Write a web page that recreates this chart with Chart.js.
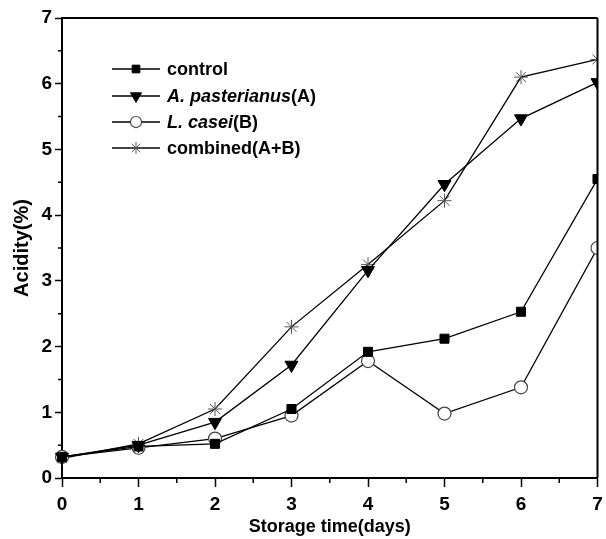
<!DOCTYPE html>
<html>
<head>
<meta charset="utf-8">
<script src="https://cdn.jsdelivr.net/npm/chart.js@4"></script>
<style>
  html, body { margin: 0; padding: 0; background: #fff; }
  #wrap { width: 606px; height: 539px; }
</style>
</head>
<body>
<div id="wrap"><canvas id="c"></canvas></div>
<script>
const days = [0, 1, 2, 3, 4, 5, 6, 7];
const controlValues  = [0.32, 0.48, 0.52, 1.05, 1.92, 2.12, 2.53, 4.55];
const aValues        = [0.32, 0.50, 0.85, 1.72, 3.16, 4.47, 5.47, 6.02];
const bValues        = [0.32, 0.46, 0.60, 0.95, 1.78, 0.98, 1.38, 3.50];
const combinedValues = [0.30, 0.52, 1.05, 2.30, 3.25, 4.22, 6.10, 6.37];
const xTitle = 'Storage time(days)';
const yTitle = 'Acidity(%)';
const legendLabels = [
  [{ t: 'control', i: false }],
  [{ t: 'A. pasterianus', i: true }, { t: '(A)', i: false }],
  [{ t: 'L. casei', i: true }, { t: '(B)', i: false }],
  [{ t: 'combined(A+B)', i: false }]
];

const FONT = '"Liberation Sans", Arial, sans-serif';

function pts(vals) { return days.map((d, k) => ({ x: d, y: vals[k] })); }

const styles = [
  { pointStyle: 'rect', radius: 6.4, rotation: 0, bg: '#000', border: '#000', bw: 1 },
  { pointStyle: 'triangle', radius: 7.5, rotation: 180, bg: '#000', border: '#000', bw: 1 },
  { pointStyle: 'circle', radius: 6.5, rotation: 0, bg: '#fff', border: '#444', bw: 1.2 },
  { pointStyle: 'star', radius: 7, rotation: 0, bg: '#fff', border: '#555', bw: 1 }
];
const seriesVals = [controlValues, aValues, bValues, combinedValues];

const datasets = seriesVals.map((v, k) => ({
  label: legendLabels[k].map(s => s.t).join(''),
  data: pts(v),
  borderColor: '#000',
  borderWidth: 1.3,
  pointStyle: styles[k].pointStyle,
  pointRadius: styles[k].radius,
  pointRotation: styles[k].rotation,
  pointBackgroundColor: styles[k].bg,
  pointBorderColor: styles[k].border,
  pointBorderWidth: styles[k].bw,
  tension: 0,
  clip: { left: 12, top: 12, right: 0, bottom: 12 }
}));

const framePlugin = {
  id: 'frame',
  afterDraw(chart) {
    const { ctx, chartArea: a, scales } = chart;
    ctx.save();
    ctx.strokeStyle = '#000';
    ctx.lineWidth = 2;
    ctx.beginPath();
    ctx.moveTo(a.left, a.top); ctx.lineTo(a.right, a.top);
    ctx.moveTo(a.right, a.top); ctx.lineTo(a.right, a.bottom);
    ctx.stroke();
    ctx.lineWidth = 1.5;
    const xs = scales.x, ys = scales.y;
    ctx.beginPath();
    for (let k = 0; k < xs.ticks.length - 1; k++) {
      const m = (xs.ticks[k].value + xs.ticks[k + 1].value) / 2;
      const px = xs.getPixelForValue(m);
      ctx.moveTo(px, a.bottom); ctx.lineTo(px, a.bottom + 5);
    }
    for (let k = 0; k < ys.ticks.length - 1; k++) {
      const m = (ys.ticks[k].value + ys.ticks[k + 1].value) / 2;
      const py = ys.getPixelForValue(m);
      ctx.moveTo(a.left, py); ctx.lineTo(a.left - 4, py);
    }
    ctx.stroke();
    ctx.restore();
  }
};

const legendPlugin = {
  id: 'customLegend',
  afterDraw(chart) {
    const { ctx } = chart;
    const x0 = 112, x1 = 160, xm = 136, xt = 167;
    const rows = [69, 96, 122, 148];
    ctx.save();
    legendLabels.forEach((segs, k) => {
      const y = rows[k];
      ctx.strokeStyle = '#000';
      ctx.lineWidth = 1.5;
      ctx.beginPath(); ctx.moveTo(x0, y); ctx.lineTo(x1, y); ctx.stroke();
      const st = styles[k];
      ctx.fillStyle = st.bg;
      ctx.strokeStyle = st.border;
      ctx.lineWidth = st.bw;
      Chart.helpers.drawPoint(ctx, {
        pointStyle: st.pointStyle, radius: st.radius * 0.85,
        rotation: st.rotation, borderWidth: st.bw
      }, xm, y);
      let x = xt;
      ctx.fillStyle = '#000';
      ctx.textBaseline = 'middle';
      ctx.textAlign = 'left';
      segs.forEach(s => {
        ctx.font = (s.i ? 'italic ' : '') + 'bold 18px ' + FONT;
        ctx.fillText(s.t, x, y + 1);
        x += ctx.measureText(s.t).width;
      });
    });
    ctx.restore();
  }
};

new Chart(document.getElementById('c'), {
  type: 'line',
  data: { datasets },
  options: {
    responsive: true,
    maintainAspectRatio: false,
    animation: false,
    layout: { padding: { top: 18, right: 0, left: 0, bottom: 0 } },
    plugins: { legend: { display: false }, tooltip: { enabled: false } },
    scales: {
      x: {
        type: 'linear',
        min: 0, max: 7,
        ticks: { stepSize: 1, color: '#000', font: { family: FONT, size: 19, weight: 'bold' }, padding: 6, maxRotation: 0 },
        grid: { display: true, drawOnChartArea: false, tickLength: 9, tickWidth: 1.5, tickColor: '#000' },
        border: { display: true, color: '#000', width: 2 },
        title: { display: true, text: xTitle, color: '#000', font: { family: FONT, size: 18, weight: 'bold' }, padding: { top: 0, bottom: 1 } },
        afterFit(s) { s.height = 61; s.paddingRight = 4; }
      },
      y: {
        min: 0, max: 7,
        ticks: { stepSize: 1, color: '#000', font: { family: FONT, size: 19, weight: 'bold' }, padding: 3 },
        grid: { display: true, drawOnChartArea: false, tickLength: 7, tickWidth: 1.5, tickColor: '#000' },
        border: { display: true, color: '#000', width: 2 },
        title: { display: true, text: yTitle, color: '#000', font: { family: FONT, size: 20, weight: 'bold' }, padding: { top: 10, bottom: 0 } },
        afterFit(s) { s.width = 62; }
      }
    }
  },
  plugins: [framePlugin, legendPlugin]
});
</script>
</body>
</html>
